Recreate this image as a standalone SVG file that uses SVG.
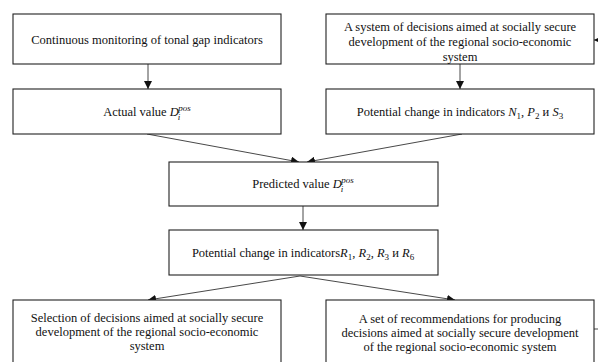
<svg xmlns="http://www.w3.org/2000/svg" width="598" height="362" viewBox="0 0 598 362">
<defs>
<style>
.box{fill:#fff;stroke:#222;stroke-width:1.1}
.t{font-family:'Liberation Serif',Tinos,'Times New Roman','DejaVu Serif',serif;font-size:12.5px;fill:#111;text-anchor:middle}
.m{font-style:italic}
.s{font-size:9px}
.c{stroke:#333;stroke-width:0.9;fill:none;marker-end:url(#ah)}
</style>
<marker id="ah" viewBox="0 0 10 10" refX="10" refY="5" markerWidth="8" markerHeight="8" markerUnits="userSpaceOnUse" orient="auto">
<path d="M0,0 L10,5 L0,10 z" fill="#111"/>
</marker>
</defs>
<rect width="598" height="362" fill="#fff"/>
<g id="connectors">
<line class="c" x1="148" y1="64" x2="148" y2="89"/>
<line class="c" x1="460" y1="64" x2="460" y2="89"/>
<line class="c" x1="147" y1="134" x2="299" y2="162"/>
<line class="c" x1="462" y1="134" x2="307" y2="162"/>
<line class="c" x1="303" y1="206" x2="303" y2="230"/>
<line class="c" x1="300" y1="276" x2="148" y2="300"/>
<line class="c" x1="300" y1="276" x2="455" y2="300"/>
<line class="c" x1="598" y1="40" x2="594" y2="40"/>
<line x1="594" y1="329" x2="598" y2="329" stroke="#333" stroke-width="0.9"/>
</g>
<g id="n1">
<rect class="box" x="13" y="14" width="268" height="50"/>
<text class="t" x="147" y="44" font-family="Liberation Serif, serif">Continuous monitoring of tonal gap indicators</text>
</g>
<g id="n2">
<rect class="box" x="326" y="14" width="268" height="50"/>
<text class="t" x="460" y="31">A system of decisions aimed at socially secure</text>
<text class="t" x="460" y="46">development of the regional socio-economic</text>
<text class="t" x="460" y="61">system</text>
</g>
<g id="n3">
<rect class="box" x="13" y="89" width="268" height="45"/>
<text class="t" x="147" y="116">Actual value <tspan class="m">D</tspan><tspan class="m s" dx="-1" dy="4">i</tspan><tspan class="m s" dx="-2" dy="-9">pos</tspan></text>
</g>
<g id="n4">
<rect class="box" x="326" y="89" width="268" height="45"/>
<text class="t" x="460" y="116">Potential change in indicators <tspan class="m">N</tspan><tspan class="s" dy="3">1</tspan><tspan dy="-3">, </tspan><tspan class="m">P</tspan><tspan class="s" dy="3">2</tspan><tspan dy="-3"> и </tspan><tspan class="m">S</tspan><tspan class="s" dy="3">3</tspan></text>
</g>
<g id="n5">
<rect class="box" x="169" y="162" width="269" height="44"/>
<text class="t" x="303" y="188">Predicted value <tspan class="m">D</tspan><tspan class="m s" dx="-1" dy="4">i</tspan><tspan class="m s" dx="-2" dy="-9">pos</tspan></text>
</g>
<g id="n6">
<rect class="box" x="169" y="230" width="269" height="45"/>
<text class="t" x="303" y="257">Potential change in indicators<tspan class="m">R</tspan><tspan class="s" dy="3">1</tspan><tspan dy="-3">, </tspan><tspan class="m">R</tspan><tspan class="s" dy="3">2</tspan><tspan dy="-3">, </tspan><tspan class="m">R</tspan><tspan class="s" dy="3">3</tspan><tspan dy="-3"> и </tspan><tspan class="m">R</tspan><tspan class="s" dy="3">6</tspan></text>
</g>
<g id="n7">
<rect class="box" x="13" y="300" width="268" height="70"/>
<text class="t" x="147" y="322">Selection of decisions aimed at socially secure</text>
<text class="t" x="147" y="336">development of the regional socio-economic</text>
<text class="t" x="147" y="350">system</text>
</g>
<g id="n8">
<rect class="box" x="326" y="300" width="268" height="70"/>
<text class="t" x="460" y="323">A set of recommendations for producing</text>
<text class="t" x="460" y="337">decisions aimed at socially secure development</text>
<text class="t" x="460" y="351">of the regional socio-economic system</text>
</g>
</svg>
